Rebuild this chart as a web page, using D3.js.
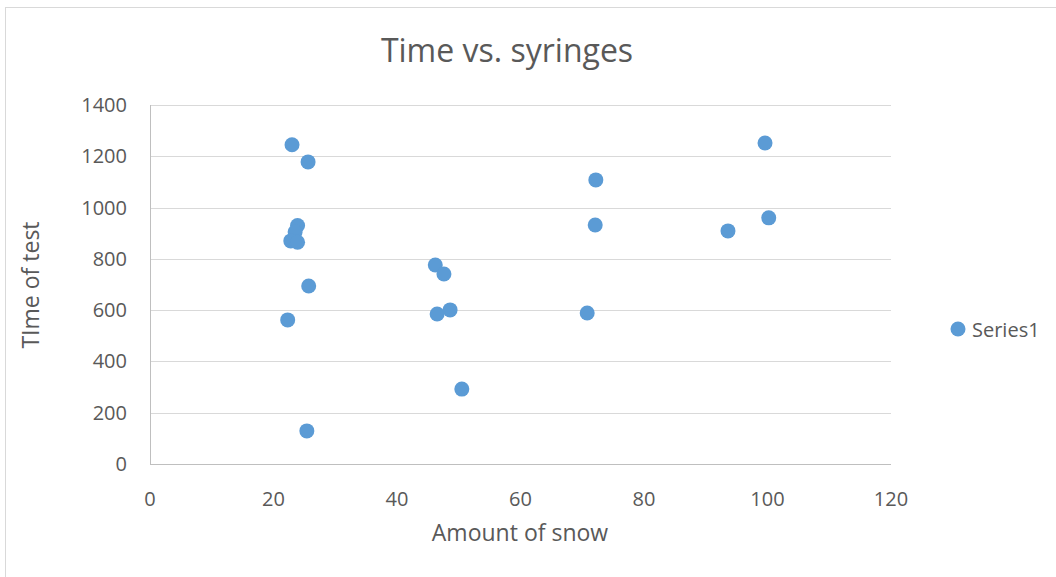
<!DOCTYPE html>
<html lang="en">
<head>
    <meta charset="UTF-8">
    <title>Time vs. syringes</title>
    <script src="https://d3js.org/d3.v7.min.js"></script>
    <style>
        body { margin: 0; background: #fff; }
        text { font-family: "Open Sans", "Noto Sans", sans-serif; fill: #595959; }
        .grid line { stroke: #d9d9d9; stroke-width: 1px; }
        .dot { fill: #5b9bd5; }
    </style>
</head>
<body>
    <svg></svg>
</body>
<script>
    // Data
    const snow = [23.0, 25.6, 23.9, 23.5, 22.8, 23.9, 25.7, 22.3, 25.4, 46.2, 47.6, 46.5, 48.6, 50.5, 72.2, 72.1, 70.8, 99.6, 93.6, 100.2];
    const testTime = [1245, 1178, 930, 905, 870, 865, 694, 562, 129, 776, 741, 585, 601, 292, 1108, 932, 589, 1252, 909, 960];
    const xTicks = [0, 20, 40, 60, 80, 100, 120];
    const yTicks = [0, 200, 400, 600, 800, 1000, 1200, 1400];
    const seriesName = "Series1";

    const W = 1056, H = 577;
    const margin = { top: 105, right: 165, bottom: 113, left: 150 };
    const width = W - margin.left - margin.right,
        height = H - margin.top - margin.bottom;

    const root = d3.select("svg").attr("width", W).attr("height", H);

    // chart border (partially cropped in the original)
    root.append("line").attr("x1", 5.5).attr("x2", 5.5).attr("y1", 7).attr("y2", H)
        .attr("stroke", "#d9d9d9");
    root.append("line").attr("x1", 5).attr("x2", W).attr("y1", 7.5).attr("y2", 7.5)
        .attr("stroke", "#d9d9d9");

    const svg = root.append("g").attr("transform", `translate(${margin.left},${margin.top})`);

    const x = d3.scaleLinear().domain([0, 120]).range([0, width]);
    const y = d3.scaleLinear().domain([0, 1400]).range([height, 0]);

    // Horizontal gridlines
    svg.append("g").attr("class", "grid")
        .selectAll("line").data(yTicks.filter(d => d > 0)).enter().append("line")
        .attr("x1", 0).attr("x2", width)
        .attr("y1", d => Math.round(y(d)) + 0.5).attr("y2", d => Math.round(y(d)) + 0.5);

    // Axis lines
    svg.append("line").attr("x1", 0).attr("x2", width)
        .attr("y1", height + 0.5).attr("y2", height + 0.5).attr("stroke", "#bfbfbf");
    svg.append("line").attr("x1", 0.5).attr("x2", 0.5)
        .attr("y1", 0).attr("y2", height).attr("stroke", "#bfbfbf");

    // Tick labels
    svg.append("g").selectAll("text").data(yTicks).enter().append("text")
        .attr("x", -23).attr("y", d => y(d))
        .attr("dy", "0.35em").attr("text-anchor", "end")
        .style("font-size", "20px").text(d => d);

    svg.append("g").selectAll("text").data(xTicks).enter().append("text")
        .attr("x", d => x(d)).attr("y", height + 35)
        .attr("dy", "0.35em").attr("text-anchor", "middle")
        .style("font-size", "20px").text(d => d);

    // Dots
    svg.append("g").selectAll("circle").data(snow).enter().append("circle")
        .attr("class", "dot")
        .attr("cx", d => x(d))
        .attr("cy", (d, i) => y(testTime[i]))
        .attr("r", 7.5);

    // Title
    root.append("text").attr("x", 507).attr("y", 51)
        .attr("dy", "0.35em").attr("text-anchor", "middle")
        .style("font-size", "32px").text("Time vs. syringes");

    // Axis titles
    root.append("text").attr("x", 520).attr("y", 533)
        .attr("dy", "0.35em").attr("text-anchor", "middle")
        .style("font-size", "23px").text("Amount of snow");

    root.append("text")
        .attr("transform", "translate(31,285) rotate(-90)")
        .attr("dy", "0.35em").attr("text-anchor", "middle")
        .style("font-size", "23px").text("TIme of test");

    // Legend
    root.append("circle").attr("class", "dot").attr("cx", 958).attr("cy", 329).attr("r", 7.5);
    root.append("text").attr("x", 972).attr("y", 330)
        .attr("dy", "0.35em").style("font-size", "20px").text(seriesName);
</script>
</html>
